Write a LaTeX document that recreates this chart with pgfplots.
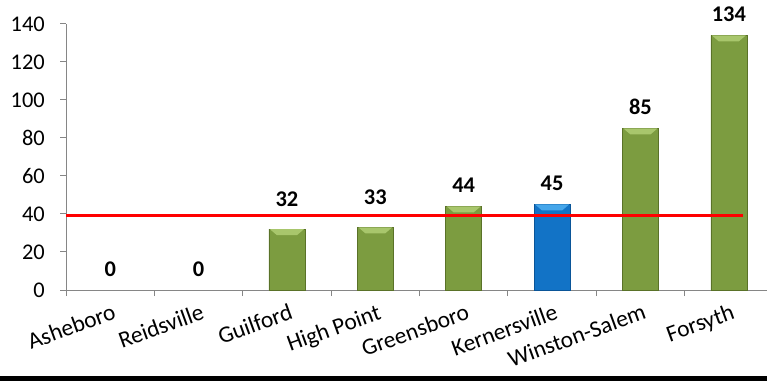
\documentclass[border=0pt]{standalone}
\usepackage{pgfplots}
\pgfplotsset{compat=1.18}
\usepackage{fontspec}
\setmainfont{Carlito}

\definecolor{barG}{HTML}{7C9C40}
\definecolor{barGd}{HTML}{5A7228}
\definecolor{barGl}{HTML}{A8C66C}
\definecolor{barB}{HTML}{1273C6}
\definecolor{barBd}{HTML}{0A5598}
\definecolor{barBl}{HTML}{45A6EA}
\definecolor{axgray}{HTML}{868686}

\newcommand{\chartfont}{\fontsize{22.5}{26}\selectfont}
\newcommand{\catfont}{\fontsize{23.5}{27}\selectfont}

% bar bodies: darker rims left and right
\pgfdeclarehorizontalshading{greenbar}{100bp}{color(0bp)=(barGd); color(12bp)=(barG); color(88bp)=(barG); color(100bp)=(barGd)}
\pgfdeclarehorizontalshading{bluebar}{100bp}{color(0bp)=(barBd); color(12bp)=(barB); color(88bp)=(barB); color(100bp)=(barBd)}

% bevelled cap placed on top of each bar
\pgfdeclareplotmark{bevel}{%
  \pgfpathmoveto{\pgfpoint{-17bp}{0bp}}%
  \pgfpathlineto{\pgfpoint{17bp}{0bp}}%
  \pgfpathlineto{\pgfpoint{10bp}{-6bp}}%
  \pgfpathlineto{\pgfpoint{-10bp}{-6bp}}%
  \pgfpathclose
  \pgfusepath{fill}}

\begin{document}
\begin{tikzpicture}
\useasboundingbox (0,0) rectangle (767bp,381bp);
\fill[white] (0,0) rectangle (767bp,381bp);
\clip (0,0) rectangle (767bp,381bp);
\begin{axis}[
  at={(66bp,91bp)}, anchor=south west,
  scale only axis, width=707bp, height=266bp,
  xmin=-0.5, xmax=7.5, ymin=0, ymax=140,
  enlargelimits=false, clip=false,
  axis x line*=bottom, axis y line*=left,
  axis line style={axgray, line width=1bp},
  tick style={axgray, line width=1bp},
  tick align=outside, major tick length=6bp,
  xtick={-0.5,0.5,...,7.5},
  x tick label as interval,
  xticklabels={Asheboro,Reidsville,Guilford,High Point,Greensboro,Kernersville,Winston-Salem,Forsyth},
  xticklabel style={font=\catfont, rotate=20, anchor=north east, inner sep=1bp, yshift=-6bp},
  ytick={0,20,...,140},
  yticklabel style={font=\chartfont, inner sep=1bp, xshift=-14bp},
  /pgf/number format/assume math mode=true,
  nodes near coords style={font=\chartfont\bfseries, black},
]
% green bars
\addplot[ybar, bar shift=0pt, bar width=36bp, draw=barGd, line width=0.6bp,
  shading=greenbar]
  coordinates {(2,32) (3,33) (4,44) (6,85) (7,134)};
% highlighted bar
\addplot[ybar, bar shift=0pt, bar width=36bp, draw=barBd, line width=0.6bp,
  shading=bluebar]
  coordinates {(5,45)};
% bevelled tops
\addplot[only marks, mark=bevel, mark options={fill=barGl, draw=none}]
  coordinates {(2,32) (3,33) (4,44) (6,85) (7,134)};
\addplot[only marks, mark=bevel, mark options={fill=barBl, draw=none}]
  coordinates {(5,45)};
% value labels
\addplot[only marks, mark=none, nodes near coords,
  nodes near coords style={yshift=19bp}]
  coordinates {(2,32) (3,33)};
\addplot[only marks, mark=none, nodes near coords,
  nodes near coords style={yshift=10bp}]
  coordinates {(0,0) (1,0) (4,44) (5,45) (6,85) (7,134)};
% reference level
\addplot[red, line width=3bp, no marks] coordinates {(-0.5,39) (7.16,39)};
\end{axis}
\fill[black] (0,0) rectangle (767bp,5bp);
\end{tikzpicture}
\end{document}
